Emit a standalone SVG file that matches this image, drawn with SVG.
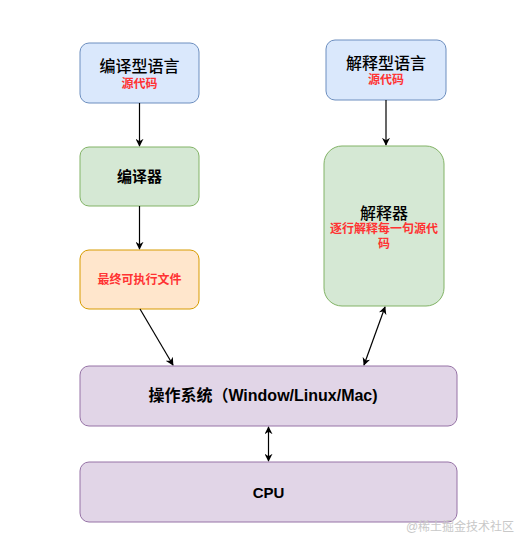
<svg xmlns="http://www.w3.org/2000/svg" width="524" height="549" viewBox="0 0 524 549">
<defs>
<style>
text{font-family:"Liberation Sans","Noto Sans CJK SC",sans-serif;text-anchor:middle}
.t{font-size:16px;fill:#000;font-weight:500}
.r{font-size:12px;fill:#ff3333;font-weight:bold}
.b{font-size:15px;font-weight:bold;fill:#000}
.blue{fill:#dae8fc;stroke:#6c8ebf}
.green{fill:#d5e8d4;stroke:#82b366}
.orange{fill:#ffe6cc;stroke:#d79b00}
.purple{fill:#e1d5e7;stroke:#9673a6}
.c{stroke:#000;stroke-width:1.2;fill:none}
</style>
<marker id="a" viewBox="0 0 10 10" refX="9" refY="5" markerWidth="8" markerHeight="8" orient="auto-start-reverse" markerUnits="userSpaceOnUse"><path d="M0,0 L10,5 L0,10 L3,5 Z" fill="#000"/></marker>
</defs>
<rect width="524" height="549" fill="#fff"/>
<g id="n1"><rect class="blue" x="80" y="43" width="119" height="60" rx="9"/><text class="t" x="139.5" y="72">编译型语言</text><text class="r" x="139.5" y="88">源代码</text></g>
<g id="n2"><rect class="blue" x="326" y="40" width="120" height="60" rx="9"/><text class="t" x="386" y="69">解释型语言</text><text class="r" x="386" y="84">源代码</text></g>
<g id="n3"><rect class="green" x="80" y="147" width="119" height="59" rx="9"/><text class="b" x="139.5" y="182">编译器</text></g>
<g id="n4"><rect class="orange" x="80" y="250" width="119" height="59" rx="9"/><text class="r" x="139.5" y="284">最终可执行文件</text></g>
<g id="n5"><rect class="green" x="324" y="146" width="120" height="160" rx="18"/><text class="t" x="384" y="219">解释器</text><text class="r" x="384" y="233">逐行解释每一句源代</text><text class="r" x="384" y="248">码</text></g>
<g id="n6"><rect class="purple" x="80" y="366" width="377" height="60" rx="9"/><text class="b" x="263" y="401" style="font-size:16px">操作系统（Window/Linux/Mac)</text></g>
<g id="n7"><rect class="purple" x="80" y="462" width="377" height="60" rx="9"/><text class="b" x="268.5" y="498">CPU</text></g>
<g id="connectors">
<line class="c" x1="139.5" y1="103" x2="139.5" y2="146" marker-end="url(#a)"/>
<line class="c" x1="139.5" y1="206" x2="139.5" y2="249" marker-end="url(#a)"/>
<line class="c" x1="140" y1="309" x2="173" y2="365" marker-end="url(#a)"/>
<line class="c" x1="386" y1="100" x2="386" y2="145" marker-end="url(#a)"/>
<line class="c" x1="364" y1="365" x2="385" y2="307" marker-start="url(#a)" marker-end="url(#a)"/>
<line class="c" x1="268.5" y1="427" x2="268.5" y2="461" marker-start="url(#a)" marker-end="url(#a)"/>
</g>
<text x="460" y="531" style="font-size:12px;fill:#c8c8c8">@稀土掘金技术社区</text>
</svg>
